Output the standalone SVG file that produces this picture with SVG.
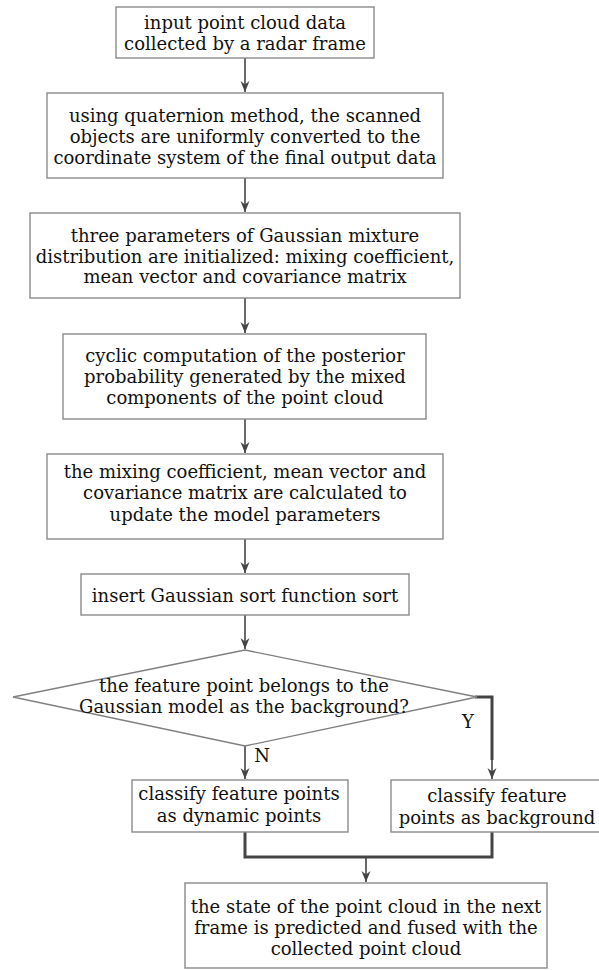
<svg xmlns="http://www.w3.org/2000/svg" width="599" height="970" viewBox="0 0 599 970">
<defs>
<marker id="ah" markerUnits="userSpaceOnUse" markerWidth="12" markerHeight="12" viewBox="-11 -6 12 12" refX="0" refY="0" orient="auto">
<path d="M0,0 L-11,-4.5 L-7.5,0 L-11,4.5 Z" fill="#444"/>
</marker>
</defs>
<style>
.box{fill:#fff;stroke:#8a8a8a;stroke-width:1.4}
.dia{fill:#fff;stroke:#808080;stroke-width:1.3}
.t{font-family:"DejaVu Serif","Liberation Serif",serif;font-size:18px;fill:#111;text-anchor:middle}
.c{fill:none;stroke:#444;stroke-width:1.6}
.k{fill:none;stroke:#444;stroke-width:3}
</style>
<rect width="599" height="970" fill="#fff"/>
<g id="connectors">
<line class="c" x1="245" y1="58" x2="245" y2="92" marker-end="url(#ah)"/>
<line class="c" x1="245" y1="178" x2="245" y2="212" marker-end="url(#ah)"/>
<line class="c" x1="245" y1="298" x2="245" y2="333" marker-end="url(#ah)"/>
<line class="c" x1="245" y1="419" x2="245" y2="453" marker-end="url(#ah)"/>
<line class="c" x1="245" y1="539" x2="245" y2="573" marker-end="url(#ah)"/>
<line class="c" x1="245" y1="615" x2="245" y2="649" marker-end="url(#ah)"/>
<line class="c" x1="245" y1="746" x2="245" y2="779" marker-end="url(#ah)"/>
<polyline class="k" points="475,697 492,697 492,760"/>
<line class="c" x1="492" y1="758" x2="492" y2="779" marker-end="url(#ah)"/>
<polyline class="k" points="245,832 245,857 492,857 492,832"/>
<line class="c" x1="366" y1="857" x2="366" y2="882" marker-end="url(#ah)"/>
</g>
<g id="n1">
<rect class="box" x="116" y="7" width="258" height="51"/>
<text class="t" x="245" y="29">input point cloud data</text>
<text class="t" x="245" y="50">collected by a radar frame</text>
</g>
<g id="n2">
<rect class="box" x="47" y="93" width="396" height="85"/>
<text class="t" x="245" y="122">using quaternion method, the scanned</text>
<text class="t" x="245" y="143">objects are uniformly converted to the</text>
<text class="t" x="245" y="164">coordinate system of the final output data</text>
</g>
<g id="n3">
<rect class="box" x="30" y="213" width="430" height="85"/>
<text class="t" x="245" y="242">three parameters of Gaussian mixture</text>
<text class="t" x="245" y="263">distribution are initialized: mixing coefficient,</text>
<text class="t" x="245" y="283">mean vector and covariance matrix</text>
</g>
<g id="n4">
<rect class="box" x="63" y="334" width="363" height="85"/>
<text class="t" x="245" y="362">cyclic computation of the posterior</text>
<text class="t" x="245" y="383">probability generated by the mixed</text>
<text class="t" x="245" y="404">components of the point cloud</text>
</g>
<g id="n5">
<rect class="box" x="47" y="454" width="396" height="85"/>
<text class="t" x="245" y="478">the mixing coefficient, mean vector and</text>
<text class="t" x="245" y="499">covariance matrix are calculated to</text>
<text class="t" x="245" y="521">update the model parameters</text>
</g>
<g id="n6">
<rect class="box" x="81" y="574" width="328" height="41"/>
<text class="t" x="245" y="602">insert Gaussian sort function sort</text>
</g>
<g id="n7">
<polygon class="dia" points="245,650 477,697 245,746 13,697"/>
<text class="t" x="244" y="692">the feature point belongs to the</text>
<text class="t" x="244" y="713">Gaussian model as the background?</text>
</g>
<text class="t" x="468" y="728">Y</text>
<text class="t" x="262" y="762">N</text>
<g id="n8">
<rect class="box" x="132" y="780" width="216" height="52"/>
<text class="t" x="239" y="800">classify feature points</text>
<text class="t" x="239" y="822">as dynamic points</text>
</g>
<g id="n9">
<rect class="box" x="391" y="780" width="212" height="52"/>
<text class="t" x="497" y="802">classify feature</text>
<text class="t" x="497" y="824">points as background</text>
</g>
<g id="n10">
<rect class="box" x="185" y="883" width="362" height="85"/>
<text class="t" x="366" y="913">the state of the point cloud in the next</text>
<text class="t" x="366" y="934">frame is predicted and fused with the</text>
<text class="t" x="366" y="955">collected point cloud</text>
</g>
</svg>
